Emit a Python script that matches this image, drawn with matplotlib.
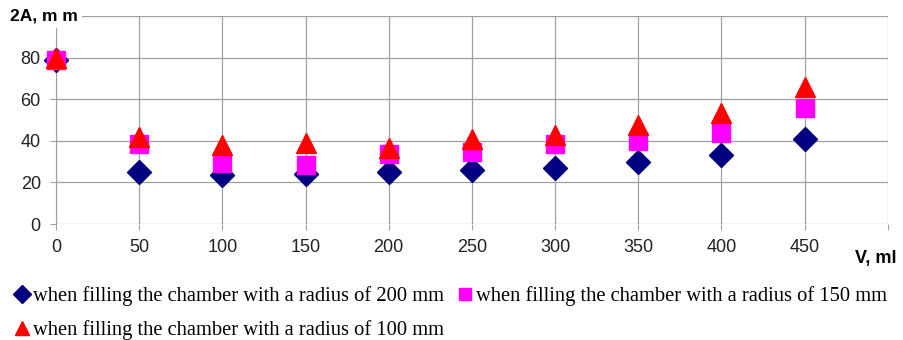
import matplotlib.pyplot as plt
from matplotlib.ticker import MultipleLocator, FuncFormatter

# data
volume = [0, 50, 100, 150, 200, 250, 300, 350, 400, 450]
r200 = [79, 25, 23.5, 24, 25, 26, 27, 30, 33.3, 41]
r150 = [79, 38.5, 29.5, 28.5, 33.7, 34.5, 38.5, 39.8, 44, 56]
r100 = [80, 42, 37.8, 39, 36.5, 41, 43, 47.7, 53.5, 66]

labels = ["when filling the chamber with a radius of 200 mm",
          "when filling the chamber with a radius of 150 mm",
          "when filling the chamber with a radius of 100 mm"]

plt.rcParams['font.family'] = ['Liberation Sans', 'DejaVu Sans']

fig = plt.figure(figsize=(9.04, 3.4), dpi=100)
ax = fig.add_axes([0.062, 0.341, 0.920, 0.612])

h1, = ax.plot(volume, r200, 'D', color='#000080', markersize=12.5, linestyle='none', zorder=3, clip_on=False)
h2, = ax.plot(volume, r150, 's', color='#ff00ff', markersize=13, linestyle='none', zorder=4, clip_on=False)
h3, = ax.plot(volume, r100, '^', color='#ff0000', markersize=14, linestyle='none', zorder=5, clip_on=False)

ax.set_xlim(0, 500)
ax.set_ylim(0, 100)
ax.xaxis.set_major_locator(MultipleLocator(50))
ax.yaxis.set_major_locator(MultipleLocator(20))
ax.xaxis.set_major_formatter(FuncFormatter(lambda v, p: '' if v > 460 else f'{v:.0f}'))
ax.yaxis.set_major_formatter(FuncFormatter(lambda v, p: '' if v > 90 else f'{v:.0f}'))
ax.grid(True, color='#a0a0a0', linewidth=0.9)
ax.set_axisbelow(True)
for s in ['top', 'right', 'bottom']:
    ax.spines[s].set_visible(False)
ax.spines['left'].set_color('#a0a0a0')
ax.spines['left'].set_bounds(0, 89)
ax.tick_params(axis='both', labelsize=13, color='#a0a0a0', length=4, pad=7, labelcolor='#222222')

ax.text(-0.055, 1.0, '2A, m m', transform=ax.transAxes, fontsize=12.5, fontweight='bold',
        ha='left', va='center', bbox=dict(facecolor='white', edgecolor='none', pad=3))
ax.text(0.961, -0.165, 'V, ml', transform=ax.transAxes, fontsize=13, fontweight='bold',
        ha='left', va='center')

fig.legend([h1, h3, h2], [labels[0], labels[2], labels[1]], ncol=2,
           loc='lower left', bbox_to_anchor=(0.015, 0.0), frameon=False,
           borderpad=0, borderaxespad=0,
           prop={'family': 'Liberation Serif', 'size': 14.8},
           handletextpad=0.15, columnspacing=0.6, labelspacing=0.7,
           handlelength=0.8, markerscale=0.7)

fig.savefig('out.png', dpi=100)
